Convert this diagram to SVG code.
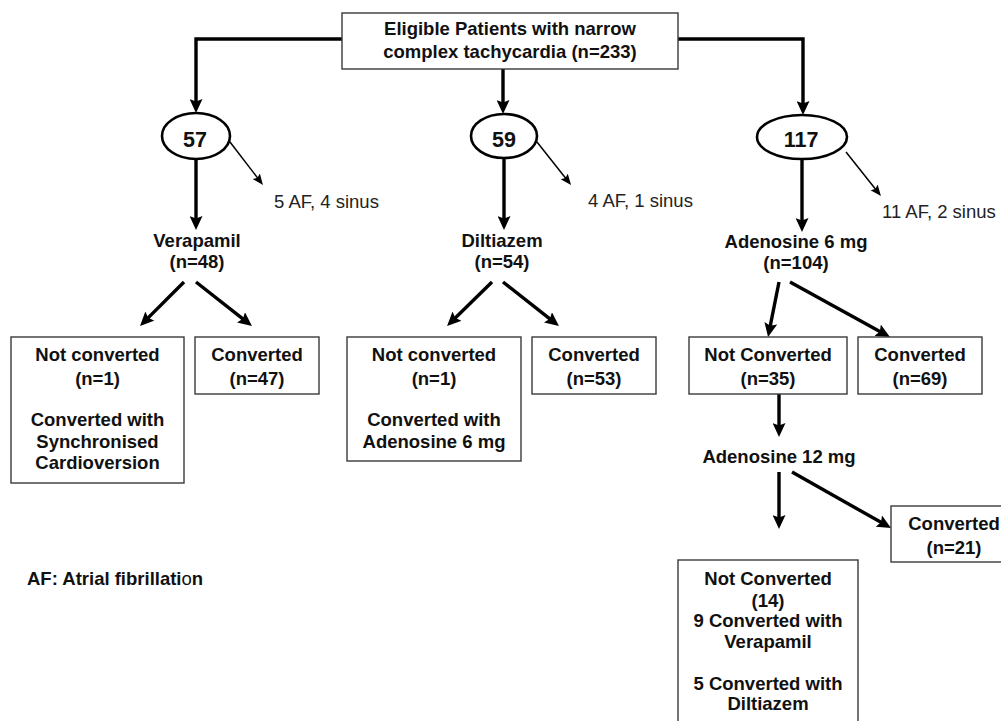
<svg xmlns="http://www.w3.org/2000/svg" width="1001" height="721" viewBox="0 0 1001 721">
<defs>
<style>
text{font-family:"Liberation Sans",Arial,sans-serif;font-size:18.5px;fill:#111;}
.b{font-weight:bold;text-anchor:middle;}
.r{font-weight:normal;fill:#222;}
.num{font-size:21.5px;font-weight:bold;text-anchor:middle;}
.box{fill:#fff;stroke:#3a3a3a;stroke-width:1.4;}
.ell{fill:#fff;stroke:#000;stroke-width:2.6;}
.thick{fill:none;stroke:#000;stroke-width:3.4;marker-end:url(#ah);}
.thin{fill:none;stroke:#000;stroke-width:1.5;marker-end:url(#ahs);}
</style>
<marker id="ah" markerUnits="userSpaceOnUse" markerWidth="15" markerHeight="13" refX="4" refY="6.5" orient="auto">
<path d="M0,0 L14,6.5 L0,13 L2.5,6.5 z" fill="#000"/>
</marker>
<marker id="ahs" markerUnits="userSpaceOnUse" markerWidth="12" markerHeight="10" refX="4" refY="4.5" orient="auto">
<path d="M0,0 L11,4.5 L0,9 L2,4.5 z" fill="#000"/>
</marker>
</defs>
<rect width="1001" height="721" fill="#fff"/>

<g id="connectors">
<path class="thick" d="M342,39 H196 V103"/>
<path class="thick" d="M678,39 H803 V105"/>
<path class="thick" d="M503,69 V104"/>
<path class="thick" d="M196,159 V220"/>
<path class="thick" d="M504,158 V220"/>
<path class="thick" d="M802,160 V222"/>
<path class="thick" d="M184,282 L147.1,318.9"/>
<path class="thick" d="M196,282 L244.1,319.8"/>
<path class="thick" d="M492,282 L454.2,319.0"/>
<path class="thick" d="M503,282 L551.1,319.8"/>
<path class="thick" d="M779,282 L770.0,327.2"/>
<path class="thick" d="M790,282 L881.2,332.2"/>
<path class="thick" d="M779,394 V427"/>
<path class="thick" d="M779,472 V519"/>
<path class="thick" d="M792,472 L882.3,523.1"/>
<path class="thin" d="M230,142 L258.7,179.4"/>
<path class="thin" d="M537,142 L566.7,179.5"/>
<path class="thin" d="M846,152 L876.6,190.5"/>
</g>

<g id="n-eligible">
<rect class="box" x="342" y="13" width="336" height="56"/>
<text class="b" x="510" y="35">Eligible Patients with narrow</text>
<text class="b" x="510" y="58">complex tachycardia (n=233)</text>
</g>

<g id="n-57">
<ellipse class="ell" cx="196" cy="136" rx="34" ry="23"/>
<text class="num" x="195" y="147">57</text>
</g>
<g id="n-59">
<ellipse class="ell" cx="504" cy="136" rx="33" ry="22"/>
<text class="num" x="504" y="147">59</text>
</g>
<g id="n-117">
<ellipse class="ell" cx="802" cy="137" rx="45" ry="22"/>
<text class="num" x="801" y="147">117</text>
</g>

<g id="n-af1"><text class="r" x="274" y="208">5 AF, 4 sinus</text></g>
<g id="n-af2"><text class="r" x="588" y="207">4 AF, 1 sinus</text></g>
<g id="n-af3"><text class="r" x="882" y="218">11 AF, 2 sinus</text></g>

<g id="n-verapamil">
<text class="b" x="197" y="247">Verapamil</text>
<text class="b" x="197" y="268">(n=48)</text>
</g>
<g id="n-diltiazem">
<text class="b" x="502" y="247">Diltiazem</text>
<text class="b" x="502" y="268">(n=54)</text>
</g>
<g id="n-adenosine6">
<text class="b" x="796" y="248">Adenosine 6 mg</text>
<text class="b" x="796" y="269">(n=104)</text>
</g>

<g id="n-v-nc">
<rect class="box" x="11" y="337" width="173" height="146"/>
<text class="b" x="97.5" y="361">Not converted</text>
<text class="b" x="97.5" y="385">(n=1)</text>
<text class="b" x="97.5" y="426">Converted with</text>
<text class="b" x="97.5" y="448">Synchronised</text>
<text class="b" x="97.5" y="469">Cardioversion</text>
</g>
<g id="n-v-c">
<rect class="box" x="195" y="337" width="124" height="57"/>
<text class="b" x="257" y="361">Converted</text>
<text class="b" x="257" y="385">(n=47)</text>
</g>
<g id="n-d-nc">
<rect class="box" x="347" y="337" width="174" height="124"/>
<text class="b" x="434" y="361">Not converted</text>
<text class="b" x="434" y="385">(n=1)</text>
<text class="b" x="434" y="426">Converted with</text>
<text class="b" x="434" y="448">Adenosine 6 mg</text>
</g>
<g id="n-d-c">
<rect class="box" x="532" y="337" width="124" height="57"/>
<text class="b" x="594" y="361">Converted</text>
<text class="b" x="594" y="385">(n=53)</text>
</g>
<g id="n-a-nc">
<rect class="box" x="689" y="337" width="158" height="57"/>
<text class="b" x="768" y="361">Not Converted</text>
<text class="b" x="768" y="385">(n=35)</text>
</g>
<g id="n-a-c">
<rect class="box" x="858" y="337" width="124" height="57"/>
<text class="b" x="920" y="361">Converted</text>
<text class="b" x="920" y="385">(n=69)</text>
</g>
<g id="n-adenosine12">
<text class="b" x="779" y="463">Adenosine 12 mg</text>
</g>
<g id="n-c21">
<rect class="box" x="891" y="506" width="120" height="56"/>
<text class="b" x="954" y="530">Converted</text>
<text class="b" x="954" y="554">(n=21)</text>
</g>
<g id="n-nc14">
<rect class="box" x="678" y="560" width="180" height="175"/>
<text class="b" x="768" y="585">Not Converted</text>
<text class="b" x="768" y="607">(14)</text>
<text class="b" x="768" y="627">9 Converted with</text>
<text class="b" x="768" y="648">Verapamil</text>
<text class="b" x="768" y="690">5 Converted with</text>
<text class="b" x="768" y="710">Diltiazem</text>
</g>

<g id="n-legend">
<text x="27" y="585" font-weight="bold">AF: Atrial fibrillati<tspan font-weight="normal">o</tspan>n</text>
</g>
</svg>
